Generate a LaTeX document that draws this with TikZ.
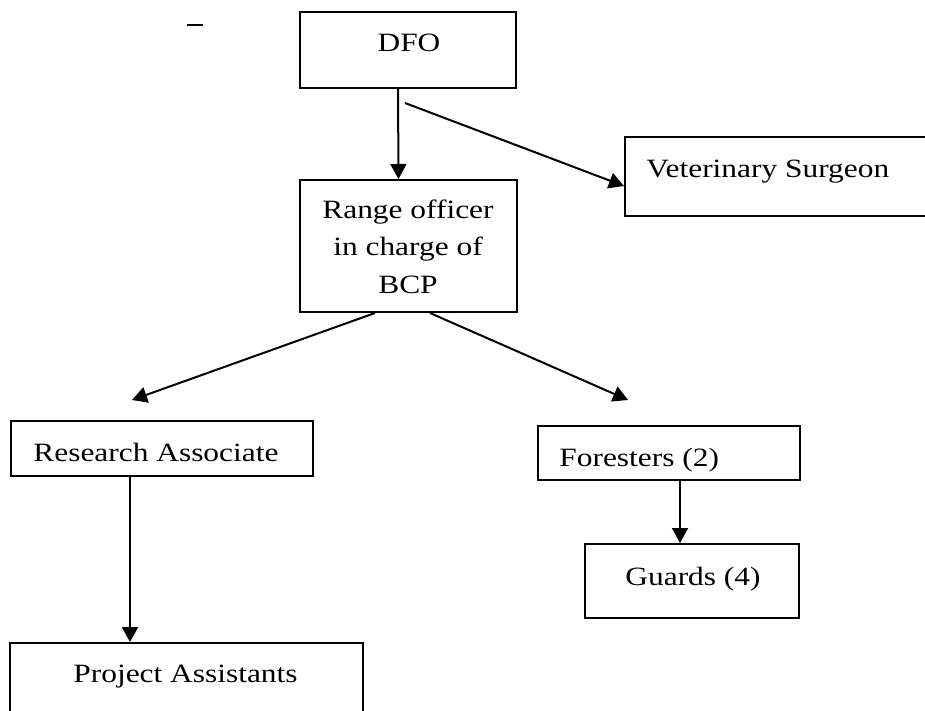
\documentclass[tikz,border=0pt]{standalone}
\usepackage{fontspec}
\setmainfont{Liberation Serif}[FakeStretch=1.19]
\usetikzlibrary{arrows.meta}
\tikzset{
	box/.style={draw, line width=1pt, inner sep=0pt},
	lbl/.style={inner sep=0pt, font=\fontsize{13.2}{18.75}\selectfont},
	arr/.style={line width=1pt, -{Triangle[length=7.5pt,width=8pt]}}
}
\begin{document}
\begin{tikzpicture}[x=0.5pt,y=-0.5pt]
		\useasboundingbox (0,0) rectangle (925,711);
		\node[box, minimum width=108pt, minimum height=38pt] (dfo) at (408,50) {};
		\node[box, minimum width=108.5pt, minimum height=66pt] (range) at (408.5,246) {};
		\node[box, minimum width=157.5pt, minimum height=39.5pt] (vet) at (782.5,176.5) {};
		\node[box, minimum width=151pt, minimum height=27.5pt] (ra) at (162,448.5) {};
		\node[box, minimum width=176.5pt, minimum height=38.5pt] (pa) at (186.5,681.5) {};
		\node[box, minimum width=131pt, minimum height=27pt] (forest) at (669,453) {};
		\node[box, minimum width=107pt, minimum height=37pt] (guards) at (692,581) {};
		\node[lbl, anchor=base] at (409,52) {DFO};
		\node[lbl, anchor=base, align=center] at (408,293) {Range officer\\in charge of\\BCP};
		\node[lbl, anchor=base west] at (646,177) {Veterinary Surgeon};
		\node[lbl, anchor=base west] at (33,461) {Research Associate};
		\node[lbl, anchor=base west] at (73,682) {Project Assistants};
		\node[lbl, anchor=base west] at (559,466) {Foresters (2)};
		\node[lbl, anchor=base west] at (625,585) {Guards (4)};
		\coordinate (vs) at (405,103);
		\coordinate (rae) at (132,400);
		\coordinate (fe) at (628,400);
		\draw[arr] ([xshift=-5pt]dfo.south) -- ([xshift=-5pt]range.north);
		\draw[arr] (vs) -- ([yshift=-4.75pt]vet.west);
		\draw[arr] ([xshift=-16.75pt]range.south) -- (rae);
		\draw[arr] ([xshift=10.75pt]range.south) -- (fe);
		\draw[arr] ([xshift=-16pt]ra.south) -- ([xshift=-16pt]ra.south |- pa.north);
		\draw[arr] ([xshift=5.5pt]forest.south) -- ([xshift=5.5pt]forest.south |- guards.north);
		\draw[line width=0.8pt] (187,25) -- (203,25);
	\end{tikzpicture}
\end{document}
